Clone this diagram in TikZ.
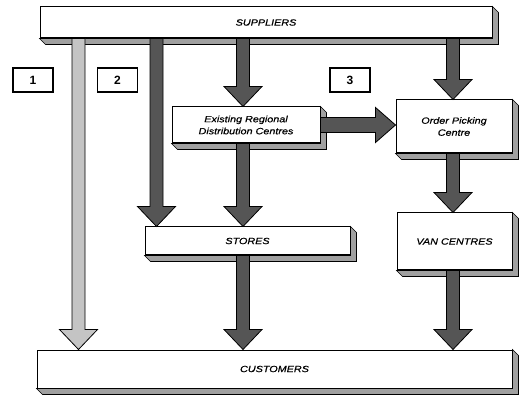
\documentclass[tikz,border=0pt]{standalone}
\usepackage{fontspec}
\setmainfont{Liberation Sans}
\newfontfamily\lblfont[FakeStretch=1.2,FakeBold=0.6]{Liberation Sans}
\usetikzlibrary{calc}
\definecolor{darkarr}{HTML}{555555}
\definecolor{lightarr}{HTML}{C4C4C4}
\definecolor{sidegray}{HTML}{A0A0A0}
\newcommand\extr[1]{\filldraw[draw=black,line width=0.6pt,fill=sidegray] (#1.north east) -- ++(6,6) -- ($(#1.south east)+(6,6)$) -- ($(#1.south west)+(6,6)$) -- (#1.south west) -- (#1.south east) -- cycle;}
\newcommand\varr[3]{\filldraw[fatarr,fill=#3] let \p1=(#1), \p2=(#2) in
 (\x1-6.5pt,\y1) -- (\x1+6.5pt,\y1) -- (\x1+6.5pt,\y2+20pt) -- (\x1+19pt,\y2+20pt) -- (\x1,\y2) -- (\x1-19pt,\y2+20pt) -- (\x1-6.5pt,\y2+20pt) -- cycle;}
\newcommand\harr[3]{\filldraw[fatarr,fill=#3] let \p1=(#1), \p2=(#2) in
 (\x1,\y1+7.5pt) -- (\x2-20pt,\y1+7.5pt) -- (\x2-20pt,\y1+17.5pt) -- (\x2,\y1) -- (\x2-20pt,\y1-17.5pt) -- (\x2-20pt,\y1-7.5pt) -- (\x1,\y1-7.5pt) -- cycle;}
\begin{document}
\begin{tikzpicture}[x=1pt,y=-1pt,
 box/.style 2 args={draw=black,line width=1pt,fill=white,minimum width=#1pt,minimum height=#2pt,inner sep=0pt,align=center,font=\lblfont\fontsize{9}{12}\selectfont\itshape},
 numbox/.style={draw=black,line width=1.6pt,minimum width=40pt,minimum height=24pt,inner sep=0pt,font=\fontsize{12}{13}\selectfont\bfseries},
 fatarr/.style={draw=black,line width=0.8pt,line join=miter}]
\useasboundingbox (0,0) rectangle (519,395);
\node[box={452}{31}] (sup) at (266,22.5) {SUPPLIERS};
\extr{sup}
\node[box={148}{36}] (erdc) at (246,125) {Existing Regional\\Distribution Centres};
\extr{erdc}
\node[box={116}{53}] (opc) at (454,126.5) {Order Picking\\Centre};
\extr{opc}
\node[box={205}{28}] (stores) at (247.5,241) {STORES};
\extr{stores}
\node[box={115}{57}] (van) at (454.5,241.5) {VAN CENTRES};
\extr{van}
\node[box={475}{38}] (cust) at (274.5,369) {CUSTOMERS};
\extr{cust}
\node[numbox] (n1) at (33,80) {1};
\node[numbox] (n2) at (117.5,80) {2};
\node[numbox] (n3) at (350,80) {3};
\coordinate (xa) at (78.5,0);
\coordinate (xb) at (156.5,0);
\coordinate (xc) at (243,0);
\coordinate (xd) at (453,0);
\varr{sup.south -| xa}{cust.north -| xa}{lightarr}
\varr{sup.south -| xb}{stores.north -| xb}{darkarr}
\varr{sup.south -| xc}{erdc.north -| xc}{darkarr}
\varr{sup.south -| xd}{opc.north -| xd}{darkarr}
\varr{erdc.south -| xc}{stores.north -| xc}{darkarr}
\varr{opc.south -| xd}{van.north -| xd}{darkarr}
\varr{stores.south -| xc}{cust.north -| xc}{darkarr}
\varr{van.south -| xd}{cust.north -| xd}{darkarr}
\harr{erdc.east}{opc.west |- erdc.east}{darkarr}
\end{tikzpicture}
\end{document}
